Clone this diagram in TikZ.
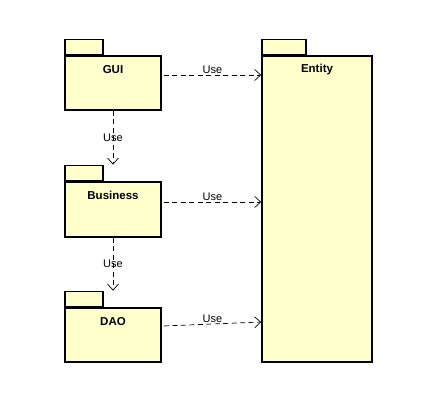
\documentclass[tikz,border=0pt]{standalone}
\usepackage{fontspec}
\setmainfont{Liberation Sans}
\usetikzlibrary{arrows.meta, positioning, calc}

\definecolor{pkgfill}{HTML}{FFFFCC}

\tikzset{
    pkgbody/.style={draw=black, fill=pkgfill, line width=1.6pt, inner sep=0pt},
    pkgtab/.style={draw=black, fill=pkgfill, line width=1.6pt, inner sep=0pt,
        minimum height=15pt, anchor=south west},
    pkgname/.style={font=\fontsize{11.5}{13}\selectfont\bfseries, inner sep=0pt},
    uses/.style={draw=black, line width=0.7pt, dash pattern=on 5pt off 3.5pt,
        -{Straight Barb[length=6pt,width=11pt,line width=0.7pt]}},
    uselabel/.style={font=\fontsize{11}{13}\selectfont, inner sep=1.5pt}
}

\begin{document}
\begin{tikzpicture}[x=1pt,y=-1pt]
            \useasboundingbox (0,0) rectangle (424,407);

            % Packages
            \node[pkgbody, minimum width=96pt, minimum height=54pt] (gui) at (113,83) {};
            \node[pkgtab, minimum width=38pt] (guitab) at (gui.north west) {};
            \node[pkgname] (guiname) at ($(gui.north)+(0,14.5)$) {GUI};

            \node[pkgbody, minimum width=96pt, minimum height=55pt] (business) at (113,209.5) {};
            \node[pkgtab, minimum width=38pt] (businesstab) at (business.north west) {};
            \node[pkgname] (businessname) at ($(business.north)+(0,14.5)$) {Business};

            \node[pkgbody, minimum width=96pt, minimum height=54pt] (dao) at (113,335) {};
            \node[pkgtab, minimum width=38pt] (daotab) at (dao.north west) {};
            \node[pkgname] (daoname) at ($(dao.north)+(0,14.5)$) {DAO};

            \node[pkgbody, minimum width=110pt, minimum height=306pt] (entity) at (317,209) {};
            \node[pkgtab, minimum width=44pt] (entitytab) at (entity.north west) {};
            \node[pkgname] (entityname) at ($(entity.north)+(0,14.5)$) {Entity};

            % Dependencies
            \draw[uses] ([shift={(2pt,8pt)}]gui.east) -- ([yshift=8pt]gui.east -| entity.west)
                node[uselabel, midway, above] {Use};
            \draw[uses] ([shift={(2pt,7.5pt)}]business.east) -- ([yshift=7.5pt]business.east -| entity.west)
                node[uselabel, midway, above] {Use};
            \draw[uses] ([shift={(2pt,9pt)}]dao.east) -- ([yshift=13pt]dao.east -| entity.west)
                node[uselabel, midway, above] {Use};

            \draw[uses] (gui.south) -- (gui.south |- businesstab.north)
                node[uselabel, midway, inner sep=0pt] {Use};
            \draw[uses] (business.south) -- (business.south |- daotab.north)
                node[uselabel, midway, inner sep=0pt] {Use};
        \end{tikzpicture}
\end{document}
